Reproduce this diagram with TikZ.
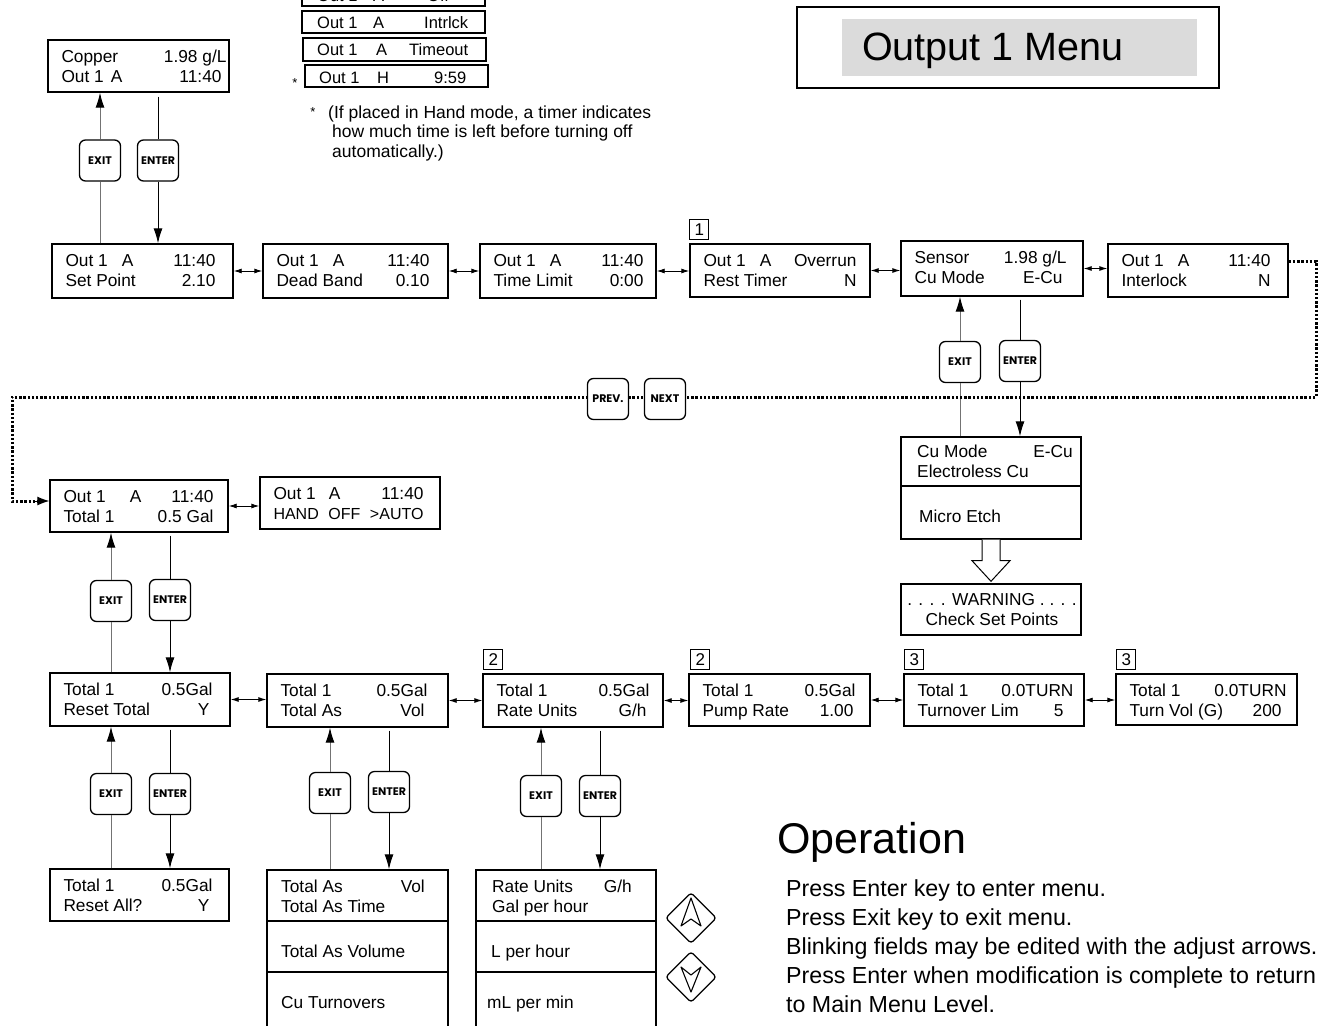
\documentclass[tikz,border=0pt]{standalone}
\usepackage{fontspec}
\setmainfont{Liberation Sans}
\newfontfamily\btnfont{Poppins}
\usetikzlibrary{arrows.meta,calc,shapes.geometric}

\newcommand\mkLCD[8][15]{%
  \node[lcdbox, minimum width={#5pt-#3pt}, minimum height={#6pt-#4pt}] (#2) at ({(#3+#5)/2},{(#4+#6)/2}) {};
  \node[lcdtxt, anchor=base west] (#2-a) at ([xshift=14pt,yshift=-23pt]#2.north west) {\makebox[\dimexpr#5pt-#3pt-14pt-#1pt\relax][l]{#7}};
  \node[lcdtxt, anchor=base west] (#2-b) at ([xshift=14pt,yshift=-43pt]#2.north west) {\makebox[\dimexpr#5pt-#3pt-14pt-#1pt\relax][l]{#8}};
}

\begin{document}
\begin{tikzpicture}[x=1pt,y=-1pt,
  lcdbox/.style={draw, line width=1.4pt, inner sep=0pt, rectangle},
  lcdtxt/.style={inner sep=0pt, font=\fontsize{17.3}{20}\selectfont},
  sbox/.style={draw, line width=1.1pt, inner sep=0pt, minimum width=183pt},
  stxt/.style={inner sep=0pt, anchor=base west, font=\fontsize{16.5}{20}\selectfont},
  btn/.style={draw, line width=1.3pt, rounded corners=6pt, minimum width=41pt, minimum height=41pt, inner sep=0pt, fill=white, font=\btnfont\bfseries\fontsize{11}{11}\selectfont},
  numbox/.style={draw, line width=0.9pt, minimum width=19pt, minimum height=20pt, inner sep=0pt, anchor=south west, font=\fontsize{17}{17}\selectfont},
  dbl/.style={line width=0.9pt, {Latex[length=8pt,width=5pt]}-{Latex[length=8pt,width=5pt]}},
  exitln/.style={line width=1pt, black!55},
  exitarr/.style={exitln, -{Latex[length=15pt,width=9pt,black]}},
  enterln/.style={line width=1pt, black},
  enterarr/.style={enterln, -{Latex[length=15pt,width=9pt]}},
  dots/.style={line width=3pt, dash pattern=on 2.4pt off 1.8pt},
  divider/.style={line width=2pt},
  listtxt/.style={inner sep=0pt, anchor=base west, font=\fontsize{17.3}{20}\selectfont},
  optxt/.style={inner sep=0pt, anchor=base west, font=\fontsize{23.2}{27}\selectfont},
  keyd/.style={diamond, draw, line width=1.3pt, rounded corners=3pt, minimum width=51pt, minimum height=51pt, inner sep=0pt},
  keyglyph/.style={line width=1.1pt, line join=round},
]
\useasboundingbox (0,0) rectangle (1322,1025);
\clip (0,0) rectangle (1322,1025);

% ---- title frame
\node[draw, line width=1.2pt, minimum width=422pt, minimum height=81pt, inner sep=0pt] (menuframe) at (1008,47.5) {};
\node[fill=black!14, minimum width=355pt, minimum height=57pt, inner sep=0pt] (menubg) at (1019.5,47.5) {};
\node[anchor=base west, inner sep=0pt, font=\fontsize{39.5}{40}\selectfont] (menutitle) at (862,60) {Output 1 Menu};

% ---- small status boxes at top
\node[sbox, minimum height=25pt] (sOff) at (393.5,-6.5) {};
\node[stxt] (sOff-a) at (317,2) {Out 1};
\node[stxt] (sOff-b) at (373,2) {A};
\node[stxt] (sOff-c) at (427,2) {Off};
\node[sbox, minimum height=22pt] (sInt) at (393.5,22) {};
\node[stxt] (sInt-a) at (317,29) {Out 1};
\node[stxt] (sInt-b) at (373,29) {A};
\node[stxt] (sInt-c) at (424,29) {Intrlck};
\node[sbox, minimum height=23pt] (sTim) at (394.5,49.5) {};
\node[stxt] (sTim-a) at (317,56) {Out 1};
\node[stxt] (sTim-b) at (376,56) {A};
\node[stxt] (sTim-c) at (409,56) {Timeout};
\node[sbox, minimum height=22pt] (sHand) at (396.5,76) {};
\node[stxt] (sHand-a) at (319,83) {Out 1};
\node[stxt] (sHand-b) at (377,83) {H};
\node[stxt] (sHand-c) at (434,83) {9:59};
\node[inner sep=0pt, anchor=base, font=\fontsize{13}{13}\selectfont] (star1) at (295,87) {*};
\node[inner sep=0pt, anchor=base, font=\fontsize{13}{13}\selectfont] (star2) at (313,116) {*};
\node[stxt, font=\fontsize{17.5}{20}\selectfont] (fn1) at (328,118) {(If placed in Hand mode, a timer indicates};
\node[stxt, font=\fontsize{17.5}{20}\selectfont] (fn2) at (332,137) {how much time is left before turning off};
\node[stxt, font=\fontsize{17.5}{20}\selectfont] (fn3) at (332,157) {automatically.)};

% ---- main display
\mkLCD[2]{Cop}{48}{40}{229}{92}{Copper\hfill 1.98 g/L}{Out 1\hspace{7pt}A\hfill 11:40\hspace{5pt}}

% ---- row 1
\mkLCD[17]{B1}{52}{244}{233}{298}{Out 1\hspace{14pt}A\hfill 11:40}{Set Point\hfill 2.10}
\mkLCD[18]{B2}{263}{244}{448}{298}{Out 1\hspace{14pt}A\hfill 11:40}{Dead Band\hfill 0.10}
\mkLCD[12]{B3}{480}{244}{656}{298}{Out 1\hspace{14pt}A\hfill 11:40}{Time Limit\hfill 0:00}
\mkLCD[13]{B4}{690}{244}{870}{297}{Out 1\hspace{14pt}A\hfill Overrun}{Rest Timer\hfill N}
\mkLCD[16]{B5}{901}{241}{1083}{296}{Sensor\hfill 1.98 g/L}{Cu Mode\hfill E-Cu\hspace{4pt}}
\mkLCD[17]{B6}{1108}{244}{1288}{297}{Out 1\hspace{14pt}A\hfill 11:40}{Interlock\hfill N}
\node[numbox] (n1) at ([yshift=3pt]B4.north west) {1};

\draw[dbl] (B1.east) -- (B1.east -| B2.west);
\draw[dbl] (B2.east) -- (B2.east -| B3.west);
\draw[dbl] (B3.east) -- (B3.east -| B4.west);
\draw[dbl] (B4.east) -- (B4.east -| B5.west);
\draw[dbl] (B5.east) -- (B5.east -| B6.west);

% Copper <-> B1
\node[btn] (X1) at (100,160.5) {EXIT};
\node[btn] (N1) at (158,160.5) {ENTER};
\draw[exitln] (B1.north -| X1) -- (X1.south);
\draw[exitarr] (X1.north) -- (Cop.south -| X1);
\draw[enterln, shorten <=4pt] (Cop.south -| N1) -- (N1.north);
\draw[enterarr] (N1.south) -- (B1.north -| N1);

% ---- Cu mode list
\node[lcdbox, minimum width=180pt, minimum height=102pt] (CuL) at (991,488) {};
\draw[divider] ([yshift=-50pt]CuL.north west) -- ([yshift=-50pt]CuL.north east);
\node[listtxt] (cu1) at (917,457) {Cu Mode};
\node[listtxt, anchor=base east] (cu2) at (1073,457) {E-Cu};
\node[listtxt] (cu3) at (917,477) {Electroless Cu};
\node[listtxt] (cu4) at (919,522) {Micro Etch};

\node[btn] (X5) at (960,362) {EXIT};
\node[btn] (N5) at (1020,361) {ENTER};
\draw[exitln] (CuL.north -| X5) -- (X5.south);
\draw[exitarr] (X5.north) -- (B5.south -| X5);
\draw[enterln, shorten <=3pt] (B5.south -| N5) -- (N5.north);
\draw[enterarr] (N5.south) -- (CuL.north -| N5);

\node[lcdbox, minimum width=180pt, minimum height=51pt] (Warn) at (991,609.5) {};
\node[inner sep=0pt, anchor=base, font=\fontsize{17.3}{20}\selectfont] (w1) at (992,605) {. . . . WARNING . . . .};
\node[inner sep=0pt, anchor=base, font=\fontsize{17.3}{20}\selectfont] (w2) at (992,625) {Check Set Points};
\draw[line width=1pt, fill=white]
  ([xshift=-9pt]CuL.south) -- ([xshift=-9pt,yshift=-21pt]CuL.south)
  -- ([xshift=-19pt,yshift=-21pt]CuL.south) -- ([yshift=2pt]Warn.north)
  -- ([xshift=19pt,yshift=-21pt]CuL.south) -- ([xshift=9pt,yshift=-21pt]CuL.south)
  -- ([xshift=9pt]CuL.south);

% ---- row 2
\mkLCD[14]{B7}{50}{480}{228}{532}{Out 1\hspace{24pt}A\hfill 11:40}{Total 1\hfill 0.5 Gal}
\mkLCD[16]{B8}{260}{477}{440}{529}{Out 1\hspace{13pt}A\hfill 11:40}{\fontsize{16}{20}\selectfont HAND\hfill OFF\hfill >AUTO}
\draw[dbl] (B7.east) -- (B7.east -| B8.west);

% ---- dotted PREV/NEXT loop
\coordinate (dotR) at (1316,397);
\coordinate (dotL) at (12,397);
\draw[dots] ([yshift=-18pt]B6.north east) -| (dotR) -- (dotL) |- ([xshift=-12pt,yshift=5pt]B7.west);
\draw[line width=1pt, -{Latex[length=12pt,width=9pt]}] ([xshift=-14pt,yshift=5pt]B7.west) -- ([yshift=5pt]B7.west);
\node[btn] (prev) at (608,399) {PREV.};
\node[btn] (next) at (665,399) {NEXT};

% ---- row 3
\mkLCD[17]{B9}{50}{673}{230}{726}{Total 1\hfill 0.5Gal}{Reset Total\hfill Y\hspace{3pt}}
\mkLCD[20]{B10}{267}{674}{448}{727}{Total 1\hfill 0.5Gal}{Total As\hfill Vol\hspace{3pt}}
\mkLCD[13]{B11}{483}{674}{663}{727}{Total 1\hfill 0.5Gal}{Rate Units\hfill G/h\hspace{3pt}}
\mkLCD[14]{B12}{689}{674}{870}{726}{Total 1\hfill 0.5Gal}{Pump Rate\hfill 1.00\hspace{2pt}}
\mkLCD[10]{B13}{904}{674}{1084}{726}{Total 1\hfill 0.0TURN}{Turnover Lim\hfill 5\hspace{10pt}}
\mkLCD[10]{B14}{1116}{674}{1297}{725}{Total 1\hfill 0.0TURN}{Turn Vol (G)\hfill 200\hspace{5pt}}
\node[numbox] (n2a) at ([xshift=1pt,yshift=3pt]B11.north west) {2};
\node[numbox] (n2b) at ([xshift=2pt,yshift=3pt]B12.north west) {2};
\node[numbox] (n3a) at ([xshift=1pt,yshift=3pt]B13.north west) {3};
\node[numbox] (n3b) at ([xshift=1pt,yshift=3pt]B14.north west) {3};

\draw[dbl] (B9.east) -- (B9.east -| B10.west);
\draw[dbl] (B10.east) -- (B10.east -| B11.west);
\draw[dbl] (B11.east) -- (B11.east -| B12.west);
\draw[dbl] (B12.east) -- (B12.east -| B13.west);
\draw[dbl] (B13.east) -- (B13.east -| B14.west);

% B7 <-> B9
\node[btn] (X7) at (111,601) {EXIT};
\node[btn] (N7) at (170,600) {ENTER};
\draw[exitln] (B9.north -| X7) -- (X7.south);
\draw[exitarr] (X7.north) -- (B7.south -| X7);
\draw[enterln, shorten <=3pt] (B7.south -| N7) -- (N7.north);
\draw[enterarr] (N7.south) -- (B9.north -| N7);

% ---- row 4
\mkLCD[16]{B15}{50}{869}{229}{921}{Total 1\hfill 0.5Gal}{Reset All?\hfill Y\hspace{3pt}}
\node[btn] (X9) at (111,794) {EXIT};
\node[btn] (N9) at (170,794) {ENTER};
\draw[exitln] (B15.north -| X9) -- (X9.south);
\draw[exitarr] (X9.north) -- (B9.south -| X9);
\draw[enterln, shorten <=3pt] (B9.south -| N9) -- (N9.north);
\draw[enterarr] (N9.south) -- (B15.north -| N9);

% Total As list
\node[lcdbox, minimum width=181pt, minimum height=170pt] (TA) at (357.5,955) {};
\draw[divider] ([yshift=-52pt]TA.north west) -- ([yshift=-52pt]TA.north east);
\draw[divider] ([yshift=-103pt]TA.north west) -- ([yshift=-103pt]TA.north east);
\node[listtxt] (ta1) at (281,892) {Total As};
\node[listtxt, anchor=base east] (ta2) at (425,892) {Vol};
\node[listtxt] (ta3) at (281,912) {Total As Time};
\node[listtxt] (ta4) at (281,957) {Total As Volume};
\node[listtxt] (ta5) at (281,1008) {Cu Turnovers};
\node[btn] (X10) at (330,793) {EXIT};
\node[btn] (N10) at (389,792) {ENTER};
\draw[exitln] (TA.north -| X10) -- (X10.south);
\draw[exitarr] (X10.north) -- (B10.south -| X10);
\draw[enterln, shorten <=3pt] (B10.south -| N10) -- (N10.north);
\draw[enterarr] (N10.south) -- (TA.north -| N10);

% Rate Units list
\node[lcdbox, minimum width=180pt, minimum height=170pt] (RU) at (566,955) {};
\draw[divider] ([yshift=-52pt]RU.north west) -- ([yshift=-52pt]RU.north east);
\draw[divider] ([yshift=-103pt]RU.north west) -- ([yshift=-103pt]RU.north east);
\node[listtxt] (ru1) at (492,892) {Rate Units};
\node[listtxt, anchor=base east] (ru2) at (632,892) {G/h};
\node[listtxt] (ru3) at (492,912) {Gal per hour};
\node[listtxt] (ru4) at (491,957) {L per hour};
\node[listtxt] (ru5) at (487,1008) {mL per min};
\node[btn] (X11) at (541,796) {EXIT};
\node[btn] (N11) at (600,796) {ENTER};
\draw[exitln] (RU.north -| X11) -- (X11.south);
\draw[exitarr] (X11.north) -- (B11.south -| X11);
\draw[enterln, shorten <=3pt] (B11.south -| N11) -- (N11.north);
\draw[enterarr] (N11.south) -- (RU.north -| N11);

% adjust arrow keys
\node[keyd] (upkey) at (691,918) {};
\draw[keyglyph] ($(upkey)+(0,-20)$) -- ($(upkey)+(-10,8)$) -- ($(upkey)+(0,1)$) -- ($(upkey)+(10,8)$) -- cycle;
\node[keyd] (dnkey) at (691,977) {};
\draw[keyglyph] ($(dnkey)+(0,15)$) -- ($(dnkey)+(-10,-10)$) -- ($(dnkey)+(0,-2)$) -- ($(dnkey)+(10,-10)$) -- cycle;

% ---- Operation text
\node[anchor=base west, inner sep=0pt, font=\fontsize{43}{43}\selectfont] (optitle) at (777,853) {Operation};
\node[optxt] (op1) at (786,896) {Press Enter key to enter menu.};
\node[optxt] (op2) at (786,925) {Press Exit key to exit menu.};
\node[optxt] (op3) at (786,954) {Blinking fields may be edited with the adjust arrows.};
\node[optxt] (op4) at (786,983) {Press Enter when modification is complete to return};
\node[optxt] (op5) at (786,1012) {to Main Menu Level.};
\end{tikzpicture}
\end{document}
